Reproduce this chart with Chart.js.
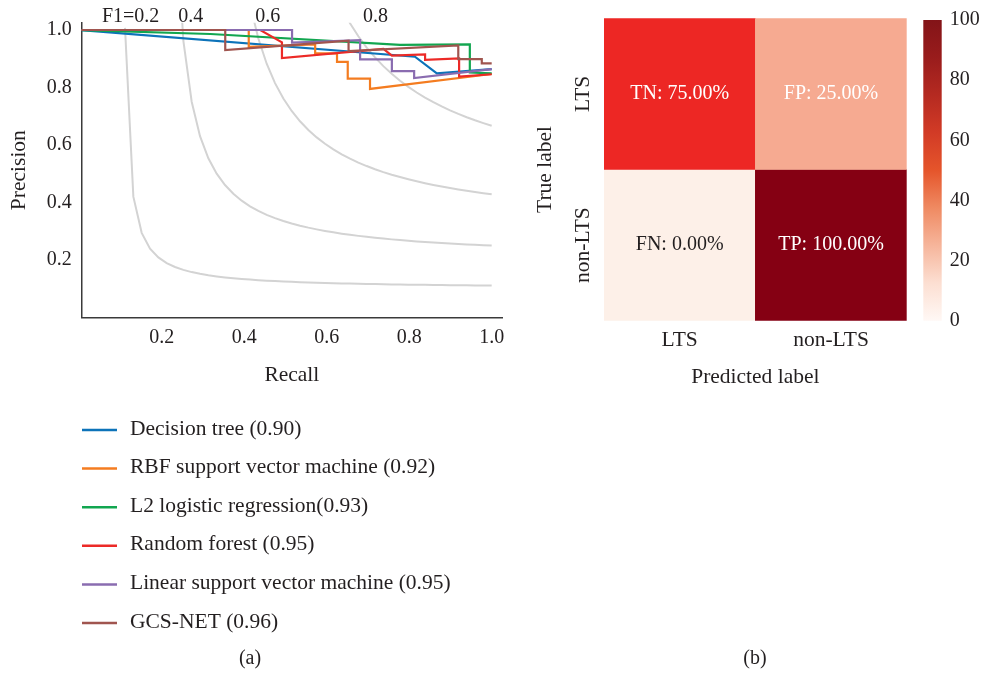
<!DOCTYPE html>
<html>
<head>
<meta charset="utf-8">
<title>PR curves and confusion matrix</title>
<script src="https://cdn.jsdelivr.net/npm/chart.js@4.4.0/dist/chart.umd.min.js"></script>
<style>
  html, body { margin: 0; padding: 0; background: #fff; }
  #wrap { position: relative; width: 982px; height: 674px; overflow: hidden; }
  canvas { position: absolute; top: 0; }
</style>
</head>
<body>
<div id="wrap">
  <canvas id="prChart" width="520" height="674" style="left:0;width:520px;height:674px"></canvas>
  <canvas id="cmChart" width="400" height="674" style="left:520px;width:400px;height:674px"></canvas>
  <canvas id="barChart" width="82" height="674" style="left:900px;width:82px;height:674px"></canvas>
</div>
<script>
// ---- (a) precision / recall data ----
var models = ['Decision tree (0.90)', 'RBF support vector machine (0.92)', 'L2 logistic regression(0.93)',
  'Random forest (0.95)', 'Linear support vector machine (0.95)', 'GCS-NET (0.96)']

var treeRecall = [0, 0.814, 0.867, 1.0]
var treePrecision = [1.0, 0.907, 0.849, 0.864]

var rbfRecall = [0, 0.411, 0.411, 0.572, 0.572, 0.625, 0.625, 0.651, 0.651, 0.705, 0.705, 1.0]
var rbfPrecision = [1.0, 1.0, 0.941, 0.950, 0.919, 0.919, 0.889, 0.889, 0.831, 0.831, 0.795, 0.847]

var logregRecall = [0, 0.318, 0.778, 0.947, 0.947, 1.0]
var logregPrecision = [1.0, 0.986, 0.948, 0.950, 0.852, 0.849]

var forestRecall = [0, 0.439, 0.4915, 0.4915, 0.7375, 0.758, 0.8385, 0.8385, 0.921, 0.921, 1.0]
var forestPrecision = [1.0, 1.0, 0.957, 0.902, 0.934, 0.911, 0.915, 0.896, 0.901, 0.838, 0.846]

var linsvmRecall = [0, 0.516, 0.516, 0.681, 0.681, 0.758, 0.758, 0.812, 0.812, 1.0]
var linsvmPrecision = [1.0, 1.0, 0.956, 0.965, 0.898, 0.898, 0.857, 0.857, 0.833, 0.864]

var gcsRecall = [0, 0.354, 0.354, 0.653, 0.653, 0.919, 0.919, 0.976, 0.976, 1.0]
var gcsPrecision = [1.0, 1.0, 0.930, 0.963, 0.927, 0.946, 0.899, 0.899, 0.884, 0.884]

// iso-F1 guide curves
var f1Levels = [0.2, 0.4, 0.6, 0.8]
var f1Labels = ['F1=0.2', '0.4', '0.6', '0.8']
var f1LabelRecall = [0.055, 0.24, 0.427, 0.688]
var f1LabelPrecision = 1.045

var xTicks = [0.2, 0.4, 0.6, 0.8, 1.0]
var yTicks = [0.2, 0.4, 0.6, 0.8, 1.0]

// ---- (b) confusion matrix data ----
var trueLabels = ['LTS', 'non-LTS']
var predictedLabels = ['LTS', 'non-LTS']
var cellTags = [['TN', 'FP'], ['FN', 'TP']]
var cmValues = [[75, 25], [0, 100]]
var colorbarTicks = [0, 20, 40, 60, 80, 100]

// ---- styles ----
var fontFamily = '"Liberation Serif", "DejaVu Serif", serif'
var textColor = '#231f20'
var modelColors = ['#0d73b9', '#f47c20', '#12a650', '#ec2a27', '#8a6cb0', '#a0554f']
var cellColors = [['#ed2724', '#f6aa91'], ['#fdf0e8', '#850013']]
var colorbarStops = ['#fff8f5', '#fcdfd2', '#f6b59b', '#ef8a62', '#e5552b', '#d23b26', '#b52a21', '#991c1c', '#831418']
var numFont = { size: 20 }
var wordFont = { size: 21.5 }

Chart.defaults.font.family = fontFamily
Chart.defaults.font.size = 20
Chart.defaults.color = textColor

var recallSets = [treeRecall, rbfRecall, logregRecall, forestRecall, linsvmRecall, gcsRecall]
var precisionSets = [treePrecision, rbfPrecision, logregPrecision, forestPrecision, linsvmPrecision, gcsPrecision]

// recall samples for the iso-F1 guides (same as the usual sklearn example)
var isoRecall = []
for (var k = 0; k < 50; k++) isoRecall.push(0.01 + k * 0.99 / 49)

var isoSets = f1Levels.map(function (f) {
  var pts = isoRecall.map(function (r) { return { x: r, y: f * r / (2 * r - f) } })
    .filter(function (p) { return p.y >= 0 })
  return { data: pts, borderColor: '#d3d3d3', borderWidth: 2, pointRadius: 0, showLine: true, clip: 0, order: 20 }
})

var modelSets = models.map(function (name, i) {
  return {
    label: name,
    data: recallSets[i].map(function (r, j) { return { x: r, y: precisionSets[i][j] } }),
    borderColor: modelColors[i],
    backgroundColor: modelColors[i],
    borderWidth: 2.2,
    pointRadius: 0,
    showLine: true,
    tension: 0,
    order: models.length - i
  }
})

var prDecor = {
  id: 'prDecor',
  afterDraw: function (chart) {
    var ctx = chart.ctx, xs = chart.scales.x, ys = chart.scales.y
    ctx.save()
    ctx.font = '20px ' + fontFamily
    ctx.fillStyle = textColor
    ctx.textBaseline = 'middle'
    ctx.textAlign = 'left'
    f1Labels.forEach(function (t, i) {
      ctx.fillText(t, xs.getPixelForValue(f1LabelRecall[i]), ys.getPixelForValue(f1LabelPrecision))
    })
    // legend below the plot
    ctx.font = '21.5px ' + fontFamily
    models.forEach(function (name, i) {
      var yy = 429 + i * 38.6
      ctx.strokeStyle = modelColors[i]
      ctx.lineWidth = 2.5
      ctx.beginPath()
      ctx.moveTo(82, yy + 1)
      ctx.lineTo(117, yy + 1)
      ctx.stroke()
      ctx.fillText(name, 130, yy)
    })
    ctx.font = '20px ' + fontFamily
    ctx.textAlign = 'center'
    ctx.fillText('(a)', 250, 659)
    ctx.restore()
  }
}

new Chart(document.getElementById('prChart'), {
  type: 'scatter',
  data: { datasets: modelSets.concat(isoSets) },
  options: {
    responsive: false,
    animation: false,
    layout: { padding: { top: 22.8, right: 18, bottom: 274, left: 0 } },
    plugins: { legend: { display: false }, tooltip: { enabled: false } },
    scales: {
      x: {
        type: 'linear', min: 0.006, max: 1.025,
        afterBuildTicks: function (s) { s.ticks = xTicks.map(function (v) { return { value: v } }) },
        afterFit: function (s) { s.height = 82.5 },
        ticks: { padding: 8, font: numFont, callback: function (v) { return Number(v).toFixed(1) } },
        grid: { display: false, drawTicks: false },
        border: { display: true, color: '#3a3a3a', width: 1.5 },
        title: { display: true, text: 'Recall', font: wordFont, padding: { top: 0, bottom: 12 } }
      },
      y: {
        type: 'linear', min: 0, max: 1.025,
        afterBuildTicks: function (s) { s.ticks = yTicks.map(function (v) { return { value: v } }) },
        afterFit: function (s) { s.width = 81.7 },
        ticks: { padding: 10, font: numFont, callback: function (v) { return Number(v).toFixed(1) } },
        grid: { display: false, drawTicks: false },
        border: { display: true, color: '#3a3a3a', width: 1.5 },
        title: { display: true, text: 'Precision', font: wordFont, padding: { top: 6.5, bottom: 0 } }
      }
    }
  },
  plugins: [prDecor]
})

// ---- (b) heatmap ----
var nRows = trueLabels.length

var cmDecor = {
  id: 'cmDecor',
  afterDraw: function (chart) {
    var ctx = chart.ctx, xs = chart.scales.x, ys = chart.scales.y
    ctx.save()
    ctx.font = '20px ' + fontFamily
    ctx.textAlign = 'center'
    ctx.textBaseline = 'middle'
    cmValues.forEach(function (row, i) {
      row.forEach(function (v, j) {
        ctx.fillStyle = v >= 25 ? '#ffffff' : textColor
        ctx.fillText(cellTags[i][j] + ': ' + v.toFixed(2) + '%',
          xs.getPixelForValue(j), ys.getPixelForValue(nRows - 1 - i + 0.5))
      })
    })
    ctx.font = '21.5px ' + fontFamily
    ctx.fillStyle = textColor
    trueLabels.forEach(function (t, i) {
      ctx.save()
      ctx.translate(63, ys.getPixelForValue(nRows - 1 - i + 0.5))
      ctx.rotate(-Math.PI / 2)
      ctx.fillText(t, 0, 0)
      ctx.restore()
    })
    ctx.font = '20px ' + fontFamily
    ctx.fillText('(b)', 235, 659)
    ctx.restore()
  }
}

new Chart(document.getElementById('cmChart'), {
  type: 'bar',
  data: {
    labels: predictedLabels,
    datasets: trueLabels.map(function (t, i) {
      return {
        label: t,
        data: cmValues[i].map(function () { return [nRows - 1 - i, nRows - i] }),
        backgroundColor: cellColors[i],
        borderWidth: 0,
        barPercentage: 1,
        categoryPercentage: 1,
        grouped: false
      }
    })
  },
  options: {
    responsive: false,
    animation: false,
    layout: { padding: { top: 18.3, right: 13.3, bottom: 274, left: 0 } },
    plugins: { legend: { display: false }, tooltip: { enabled: false } },
    scales: {
      x: {
        afterFit: function (s) { s.height = 79.3 },
        ticks: { padding: 7, font: wordFont },
        grid: { display: false, drawTicks: false },
        border: { display: false },
        title: { display: true, text: 'Predicted label', font: wordFont, padding: { top: 0, bottom: 10 } }
      },
      y: {
        min: 0, max: nRows,
        afterFit: function (s) { s.width = 84 },
        ticks: { display: false },
        grid: { display: false, drawTicks: false },
        border: { display: false },
        title: { display: true, text: 'True label', font: wordFont, padding: { top: 12.5, bottom: 0 } }
      }
    }
  },
  plugins: [cmDecor]
})

// ---- colour bar ----
new Chart(document.getElementById('barChart'), {
  type: 'bar',
  data: {
    labels: [''],
    datasets: [{
      data: [[colorbarTicks[0], colorbarTicks[colorbarTicks.length - 1]]],
      borderWidth: 0,
      barPercentage: 1,
      categoryPercentage: 1,
      backgroundColor: function (c) {
        var area = c.chart.chartArea
        if (!area) return colorbarStops[0]
        var g = c.chart.ctx.createLinearGradient(0, area.bottom, 0, area.top)
        colorbarStops.forEach(function (col, i) { g.addColorStop(i / (colorbarStops.length - 1), col) })
        return g
      }
    }]
  },
  options: {
    responsive: false,
    animation: false,
    layout: { padding: { top: 18.3, right: 0, bottom: 353.3, left: 23.3 } },
    plugins: { legend: { display: false }, tooltip: { enabled: false } },
    scales: {
      x: { display: false },
      y: {
        position: 'right',
        min: colorbarTicks[0], max: colorbarTicks[colorbarTicks.length - 1],
        afterBuildTicks: function (s) { s.ticks = colorbarTicks.map(function (v) { return { value: v } }) },
        afterFit: function (s) { s.width = 40.3 },
        ticks: { padding: 8, font: numFont },
        grid: { display: false, drawTicks: false },
        border: { display: false }
      }
    }
  }
})
</script>
</body>
</html>
